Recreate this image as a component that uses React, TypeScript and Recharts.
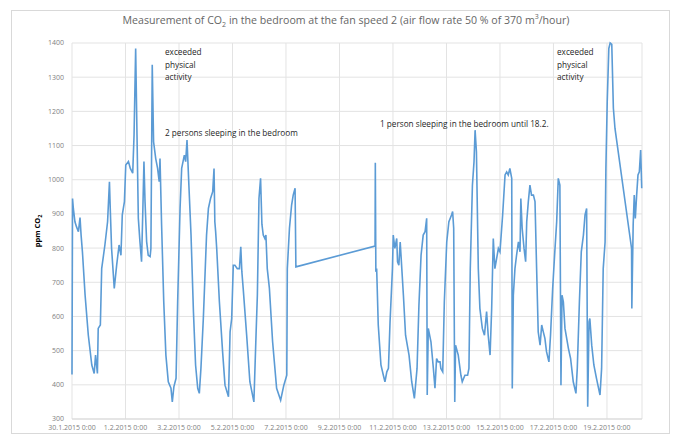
import React from 'react';
import { LineChart, Line, XAxis, YAxis, CartesianGrid } from 'recharts';

// days since 30.1.2015 0:00
const timeDays = [
  0.0, 0.02, 0.05, 0.11, 0.17, 0.24, 0.3, 0.34, 0.39, 0.49, 0.61, 0.74, 0.83, 0.88, 0.95, 0.98,
  1.06, 1.11, 1.23, 1.33, 1.4, 1.43, 1.48, 1.58, 1.67, 1.76, 1.83, 1.88, 1.96, 2.01, 2.11, 2.18,
  2.27, 2.32, 2.38, 2.43, 2.48, 2.54, 2.6, 2.65, 2.69, 2.73, 2.79, 2.85, 2.92, 2.95, 3.0, 3.05,
  3.13, 3.2, 3.26, 3.29, 3.35, 3.43, 3.51, 3.6, 3.7, 3.75, 3.81, 3.89, 3.95, 4.04, 4.1, 4.2,
  4.25, 4.3, 4.37, 4.45, 4.54, 4.62, 4.7, 4.76, 4.82, 4.91, 5.03, 5.1, 5.18, 5.26, 5.31, 5.34,
  5.37, 5.41, 5.51, 5.63, 5.72, 5.85, 5.91, 5.97, 6.03, 6.09, 6.18, 6.26, 6.31, 6.35, 6.4, 6.53,
  6.65, 6.8, 6.88, 6.93, 6.99, 7.05, 7.1, 7.15, 7.21, 7.25, 7.3, 7.38, 7.5, 7.65, 7.8, 7.92,
  8.03, 8.05, 8.13, 8.21, 8.27, 8.34, 8.37, 11.33, 11.34, 11.36, 11.39, 11.45, 11.55, 11.64, 11.7, 11.77,
  11.83, 11.89, 11.98, 12.01, 12.07, 12.14, 12.17, 12.22, 12.27, 12.33, 12.39, 12.47, 12.6, 12.7, 12.8, 12.9,
  12.97, 13.05, 13.13, 13.2, 13.26, 13.28, 13.32, 13.42, 13.51, 13.57, 13.63, 13.69, 13.76, 13.79, 13.86, 13.92,
  14.01, 14.09, 14.19, 14.23, 14.27, 14.31, 14.34, 14.44, 14.54, 14.59, 14.69, 14.79, 14.84, 14.89, 14.97, 15.03,
  15.07, 15.12, 15.19, 15.25, 15.34, 15.42, 15.5, 15.56, 15.63, 15.69, 15.75, 15.81, 15.94, 16.0, 16.1, 16.19,
  16.25, 16.31, 16.37, 16.44, 16.46, 16.5, 16.56, 16.62, 16.69, 16.75, 16.78, 16.83, 16.9, 16.96, 17.0, 17.06,
  17.12, 17.18, 17.25, 17.31, 17.37, 17.43, 17.5, 17.56, 17.62, 17.68, 17.74, 17.83, 17.89, 17.97, 18.05, 18.12,
  18.18, 18.24, 18.28, 18.32, 18.37, 18.43, 18.56, 18.64, 18.74, 18.84, 18.89, 18.97, 19.04, 19.12, 19.18, 19.24,
  19.28, 19.33, 19.36, 19.43, 19.51, 19.61, 19.74, 19.8, 19.86, 19.93, 19.96, 20.01, 20.07, 20.12, 20.18, 20.24,
  20.3, 20.92, 20.93, 20.98, 21.02, 21.06, 21.11, 21.16, 21.21, 21.26, 21.3,
];

const co2Ppm = [
  430, 945, 916, 877, 862, 848, 889, 838, 789, 662, 545, 458, 433, 487, 433, 565,
  575, 740, 809, 877, 994, 916, 799, 682, 750, 809, 779, 897, 936, 1043, 1053, 1033,
  1019, 1131, 1384, 1131, 887, 819, 760, 916, 1053, 936, 819, 779, 775, 799, 1336, 1111,
  1062, 1033, 994, 1062, 867, 643, 487, 409, 390, 350, 395, 419, 643, 916, 1033, 1072,
  1053, 1116, 984, 838, 614, 458, 390, 375, 448, 594, 838, 916, 945, 965, 1033, 877,
  848, 799, 643, 497, 399, 365, 555, 594, 750, 750, 740, 740, 804, 731, 682, 545,
  409, 350, 545, 662, 945, 1004, 870, 838, 828, 838, 740, 682, 526, 390, 355, 399,
  428, 740, 858, 926, 955, 975, 745, 806, 1050, 731, 740, 575, 458, 428, 409, 438,
  448, 584, 740, 838, 799, 828, 760, 750, 818, 740, 662, 545, 487, 409, 360, 448,
  633, 779, 838, 848, 887, 370, 565, 526, 448, 390, 477, 467, 467, 448, 438, 643,
  818, 877, 897, 907, 858, 350, 516, 487, 428, 409, 428, 428, 448, 740, 984, 1053,
  1145, 1082, 740, 623, 565, 545, 614, 545, 487, 623, 828, 740, 799, 789, 897, 1014,
  1023, 1014, 1033, 1004, 389, 662, 740, 779, 818, 789, 945, 858, 799, 760, 877, 936,
  984, 955, 955, 936, 740, 555, 516, 575, 555, 536, 497, 467, 545, 682, 789, 877,
  1004, 984, 399, 662, 643, 565, 506, 477, 409, 375, 448, 643, 789, 838, 897, 916,
  336, 584, 594, 516, 458, 418, 370, 448, 740, 818, 1033, 1228, 1384, 1400, 1396, 1209,
  1150, 799, 623, 868, 955, 887, 955, 1014, 1023, 1087, 975,
];

const xTickDays = [0, 2, 4, 6, 8, 10, 12, 14, 16, 18, 20];
const xTickLabels = [
  '30.1.2015 0:00', '1.2.2015 0:00', '3.2.2015 0:00', '5.2.2015 0:00', '7.2.2015 0:00', '9.2.2015 0:00',
  '11.2.2015 0:00', '13.2.2015 0:00', '15.2.2015 0:00', '17.2.2015 0:00', '19.2.2015 0:00',
];
const yTicks = [300, 400, 500, 600, 700, 800, 900, 1000, 1100, 1200, 1300, 1400];

const data = timeDays.map((t, i) => ({ t, ppm: co2Ppm[i] }));

const FONT = '"Open Sans", "Noto Sans", sans-serif';

const note: React.CSSProperties = {
  position: 'absolute',
  fontSize: 8.2,
  lineHeight: '12.5px',
  color: '#262626',
  whiteSpace: 'nowrap',
};

export default function App() {
  return (
    <div
      style={{
        position: 'fixed',
        left: 0,
        top: 0,
        width: 678,
        height: 436,
        overflow: 'hidden',
        background: '#fff',
        fontFamily: FONT,
      }}
    >
      <div style={{ position: 'absolute', left: 11, top: 10, width: 657, height: 422, border: '1px solid #d9d9d9' }} />
      <div style={{ position: 'absolute', left: 0, top: 0 }}>
        <LineChart width={678} height={436} data={data} margin={{ top: 43, right: 36, bottom: 0, left: 0 }}>
          <CartesianGrid stroke="#e3e3e3" strokeWidth={1} />
          <XAxis
            dataKey="t"
            type="number"
            domain={[0, 21.31]}
            ticks={xTickDays}
            interval={0}
            tickFormatter={(v: number) => xTickLabels[xTickDays.indexOf(v)] ?? ''}
            tick={{ fontSize: 7, fill: '#7f7f7f', fontFamily: FONT }}
            tickLine={false}
            tickSize={3}
            tickMargin={3}
            axisLine={{ stroke: '#d9d9d9' }}
            height={17}
          />
          <YAxis
            type="number"
            domain={[300, 1400]}
            ticks={yTicks}
            interval={0}
            tick={{ fontSize: 7, fill: '#7f7f7f', fontFamily: FONT }}
            tickLine={false}
            axisLine={false}
            width={72}
          />
          <Line
            type="linear"
            dataKey="ppm"
            stroke="#5b9bd5"
            strokeWidth={1.6}
            dot={false}
            isAnimationActive={false}
          />
        </LineChart>
      </div>
      <div style={{ position: 'absolute', left: 0, width: 692, top: 12, textAlign: 'center', fontSize: 10.6, color: '#666', whiteSpace: 'nowrap' }}>
        Measurement of CO<sub style={{ fontSize: 7 }}>2</sub> in the bedroom at the fan speed 2 (air flow rate 50 % of 370 m<sup style={{ fontSize: 7 }}>3</sup>/hour)
      </div>
      <div
        style={{
          position: 'absolute',
          left: 38,
          top: 231,
          transform: 'translate(-50%, -50%) rotate(-90deg)',
          fontSize: 7.5,
          fontWeight: 700,
          color: '#000',
          whiteSpace: 'nowrap',
        }}
      >
        ppm CO<sub style={{ fontSize: 5.5 }}>2</sub>
      </div>
      <div style={{ ...note, left: 165, top: 46 }}>exceeded<br />physical<br />activity</div>
      <div style={{ ...note, left: 165, top: 127 }}>2 persons sleeping in the bedroom</div>
      <div style={{ ...note, left: 380, top: 118 }}>1 person sleeping in the bedroom until 18.2.</div>
      <div style={{ ...note, left: 557, top: 46 }}>exceeded<br />physical<br />activity</div>
    </div>
  );
}
